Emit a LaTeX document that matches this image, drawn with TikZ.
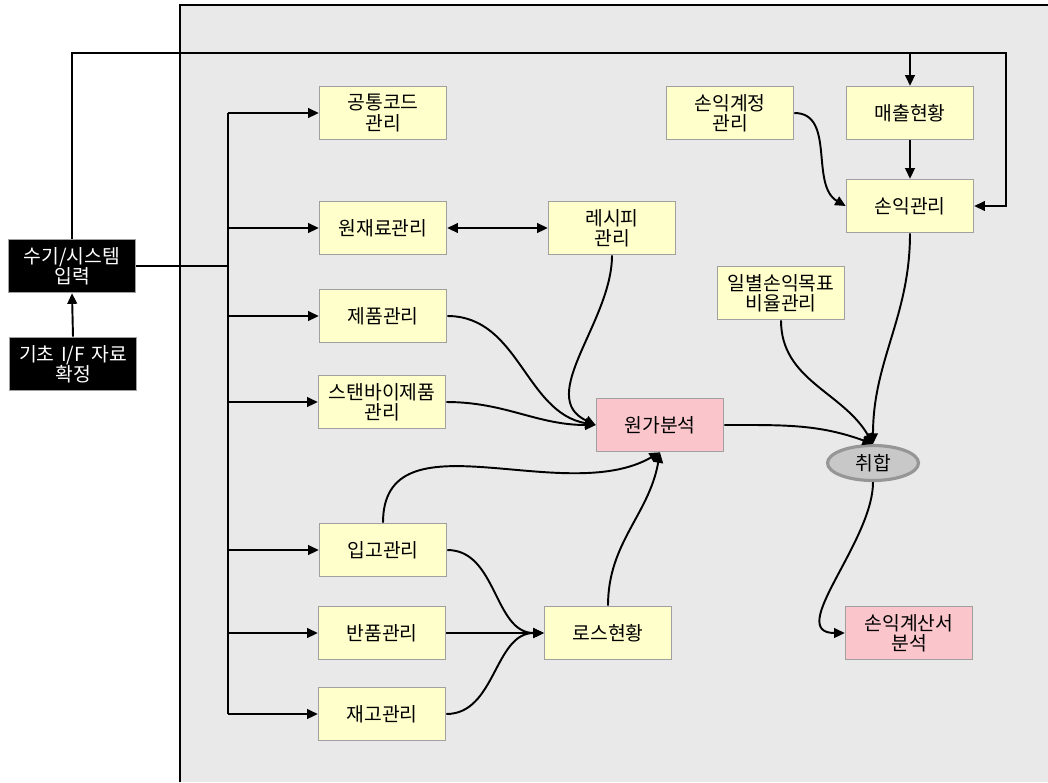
\documentclass[tikz,border=0pt]{standalone}
\usepackage{fontspec}
\newfontfamily\kr{Noto Sans CJK KR}
\usetikzlibrary{arrows.meta,shapes.geometric}
\definecolor{panelgray}{RGB}{233,233,233}
\definecolor{boxyellow}{RGB}{255,255,204}
\definecolor{boxpink}{RGB}{250,198,203}
\definecolor{boxline}{RGB}{160,160,160}
\definecolor{mergefill}{RGB}{200,200,200}
\definecolor{mergeline}{RGB}{150,150,150}
\begin{document}
\begin{tikzpicture}[
        x=0.02cm, y=-0.02cm,
        module/.style={rectangle, draw=boxline, line width=0.9pt, fill=boxyellow, text width=2.5cm, align=center, minimum width=2.54cm, minimum height=1.06cm, inner sep=0pt, font=\kr\fontsize{11}{11.6}\selectfont},
        result/.style={module, fill=boxpink},
        source/.style={module, fill=black, text=white},
        merge/.style={ellipse, draw=mergeline, line width=1.8pt, fill=mergefill, minimum width=1.82cm, minimum height=0.7cm, inner sep=0pt, font=\kr\fontsize{11}{11.6}\selectfont},
        flow/.style={-{Triangle[length=6pt,width=5.5pt]}, line width=1.1pt},
        busline/.style={line width=1.6pt}
    ]
        \useasboundingbox (0,0) rectangle (1048,782);

        % Grey panel
        \fill[panelgray] (180,5) rectangle (1048,782);
        \draw[line width=1pt] (1048,5) -- (180,5) -- (180,782);

        % Input side
        \node[source] (manual) at (72,266) {수기/시스템\\입력};
        \node[source] (basic) at (73,364) {기초 I/F 자료\\확정};

        % Master data boxes
        \node[module] (common) at (383,113) {공통코드\\관리};
        \node[module] (material) at (383,228) {원재료관리};
        \node[module] (recipe) at (612,228) {레시피\\관리};
        \node[module] (product) at (383,316) {제품관리};
        \node[module] (standby) at (382,402) {스탠바이제품\\관리};
        \node[result] (cost) at (660,425) {원가분석};
        \node[module] (receive) at (383,550) {입고관리};
        \node[module] (return) at (382,633) {반품관리};
        \node[module] (stock) at (382,714) {재고관리};
        \node[module] (loss) at (608,633) {로스현황};

        % Profit side
        \node[module] (account) at (730,113) {손익계정\\관리};
        \node[module] (sales) at (910,113) {매출현황};
        \node[module] (profit) at (910,206) {손익관리};
        \node[module] (target) at (781,293) {일별손익목표\\비율관리};
        \node[merge] (collect) at (873,463) {취합};
        \node[result] (statement) at (909,633) {손익계산서\\분석};

        % Bus from input
        \coordinate (bustop) at (228,113);
        \coordinate (busbot) at (228,714);
        \draw[busline] (manual.east) -- (manual.east -| bustop);
        \draw[busline] (bustop) -- (busbot);
        \foreach \blk in {common,material,product,standby,receive,return,stock} {
            \draw[flow] (bustop |- \blk.west) -- (\blk.west);
        }
        \draw[flow] (basic.north) -- (manual.south);

        % Feedback line over the top
        \coordinate (fbcorner) at (1006,53);
        \draw[flow] (manual.north) |- (fbcorner) |- (profit.east);
        \draw[flow] (sales.north |- fbcorner) -- (sales.north);

        % Cost flows
        \draw[{Triangle[length=6pt,width=5.5pt]}-{Triangle[length=6pt,width=5.5pt]}, line width=1.1pt] (material.east) -- (recipe.west);
        \draw[flow] (recipe.south) to[out=-90,in=155] (cost.west);
        \draw[flow] (product.east) to[out=0,in=170] (cost.west);
        \draw[flow] (standby.east) to[out=0,in=180] (cost.west);
        \draw[flow] (receive.north) to[out=90,in=-150] (cost.south);
        \draw[flow] (loss.north) to[out=90,in=-100] (cost.south);

        % Loss flows
        \draw[flow] (receive.east) to[out=0,in=180] (loss.west);
        \draw[flow] (return.east) -- (loss.west);
        \draw[flow] (stock.east) to[out=0,in=180] (loss.west);

        % Profit flows
        \draw[flow] (account.east) to[out=0,in=150] (profit.west);
        \draw[flow] (sales.south) -- (profit.north);
        \draw[flow] (cost.east) to[out=0,in=160] (collect.north);
        \draw[flow] (target.south) to[out=-90,in=120] (collect.north);
        \draw[flow] (profit.south) to[out=-90,in=90] (collect.north);
        \draw[flow] (collect.south) to[out=-90,in=180] (statement.west);

    \end{tikzpicture}
\end{document}
